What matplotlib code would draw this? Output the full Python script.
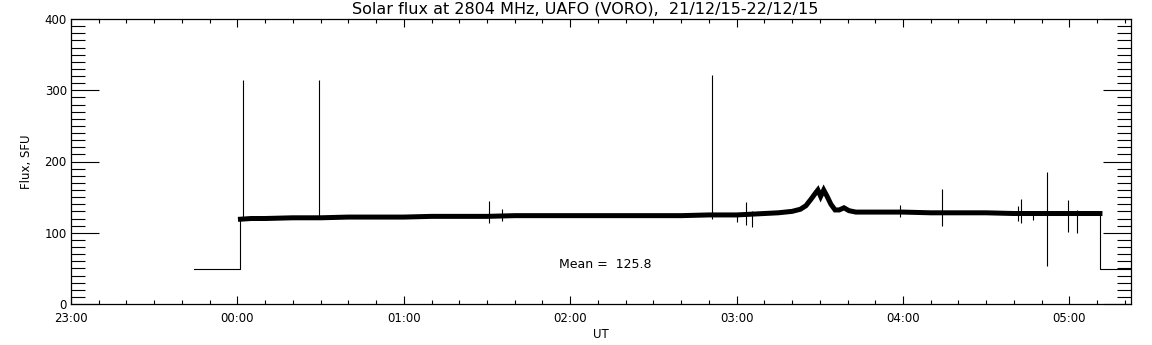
import matplotlib
matplotlib.use('Agg')
import matplotlib.pyplot as plt
from matplotlib.ticker import MultipleLocator, FixedLocator

# time in minutes from 00:00 UT
tick_pos = [-60, 0, 60, 120, 180, 240, 300]
tick_labels = ['23:00', '00:00', '01:00', '02:00', '03:00', '04:00', '05:00']

# edge segments (before start / after end of observation)
t_edge_start = [-15.5, 1.1, 1.1]
flux_edge_start = [49, 49, 119]
t_edge_end = [311, 311, 330]
flux_edge_end = [127, 49, 49]

# mid level of the noisy trace
t_mid = [1.1, 5, 10, 20, 30, 40, 50, 60, 70, 80, 90, 100, 110, 120, 130, 140,
         150, 160, 170, 180, 190, 195, 200, 203, 205, 207, 208.5, 209.3, 210.3,
         211.4, 212.5, 214, 215.5, 217, 218.7, 220.5, 223, 230, 240, 250, 260,
         270, 280, 290, 300, 311]
flux_mid = [119, 120, 120, 121, 121, 122, 122, 122, 123, 123, 123, 124, 124,
            124, 124, 124, 124, 124, 125, 125, 127, 128, 130, 133, 138, 148,
            156, 160, 151, 160, 152, 140, 132, 132, 135, 131, 129, 129, 129,
            128, 128, 128, 127, 127, 127, 127]

# spikes: time, low, high
spike_t = [2.1, 29.6, 90.7, 95.5, 171, 180, 183.5, 185.5, 238.8, 254.2,
           281.4, 282.6, 287, 291.8, 299.6, 302.8]
spike_lo = [119, 119, 113, 117, 120, 115, 111, 108, 122, 109,
            116, 114, 118, 54, 101, 99]
spike_hi = [314, 315, 145, 134, 321, 128, 143, 130, 139, 161,
            138, 147, 131, 185, 146, 132]

mean_text = 'Mean =  125.8'
title = 'Solar flux at 2804 MHz, UAFO (VORO),  21/12/15-22/12/15'

fig = plt.figure(figsize=(11.52, 3.45), dpi=100)
ax = fig.add_axes([71 / 1152, 41 / 345, 1060 / 1152, 285 / 345])

ax.plot(t_edge_start, flux_edge_start, color='black', lw=0.8)
ax.plot(t_edge_end, flux_edge_end, color='black', lw=0.8)
ax.plot(t_mid, flux_mid, color='black', lw=3.6, solid_joinstyle='miter')
ax.vlines(spike_t, spike_lo, spike_hi, color='black', lw=0.8)

ax.text(116, 55, mean_text, fontsize=9, ha='left', va='center')

ax.set_xlim(-60, 322.2)
ax.set_ylim(0, 400)
ax.xaxis.set_major_locator(FixedLocator(tick_pos))
ax.set_xticklabels(tick_labels)
ax.xaxis.set_minor_locator(MultipleLocator(10))
ax.yaxis.set_major_locator(MultipleLocator(100))
ax.yaxis.set_minor_locator(MultipleLocator(10))

ax.tick_params(axis='x', which='major', direction='in', length=6, width=0.8,
               top=True, labelsize=8.5, pad=6)
ax.tick_params(axis='x', which='minor', direction='in', length=3, width=0.8,
               top=True)
ax.tick_params(axis='y', which='major', direction='in', length=20, width=0.8,
               right=True, labelsize=8.5, pad=3)
ax.tick_params(axis='y', which='minor', direction='in', length=10, width=0.8,
               right=True)
for s in ax.spines.values():
    s.set_linewidth(0.9)

ax.set_xlabel('UT', fontsize=8.5, labelpad=2)
ax.set_ylabel('Flux, SFU', fontsize=8.5, labelpad=8)
fig.text(585 / 1152, 1 - 9 / 345, title, fontsize=11.5, ha='center', va='center')

fig.savefig('out.png', dpi=100)
